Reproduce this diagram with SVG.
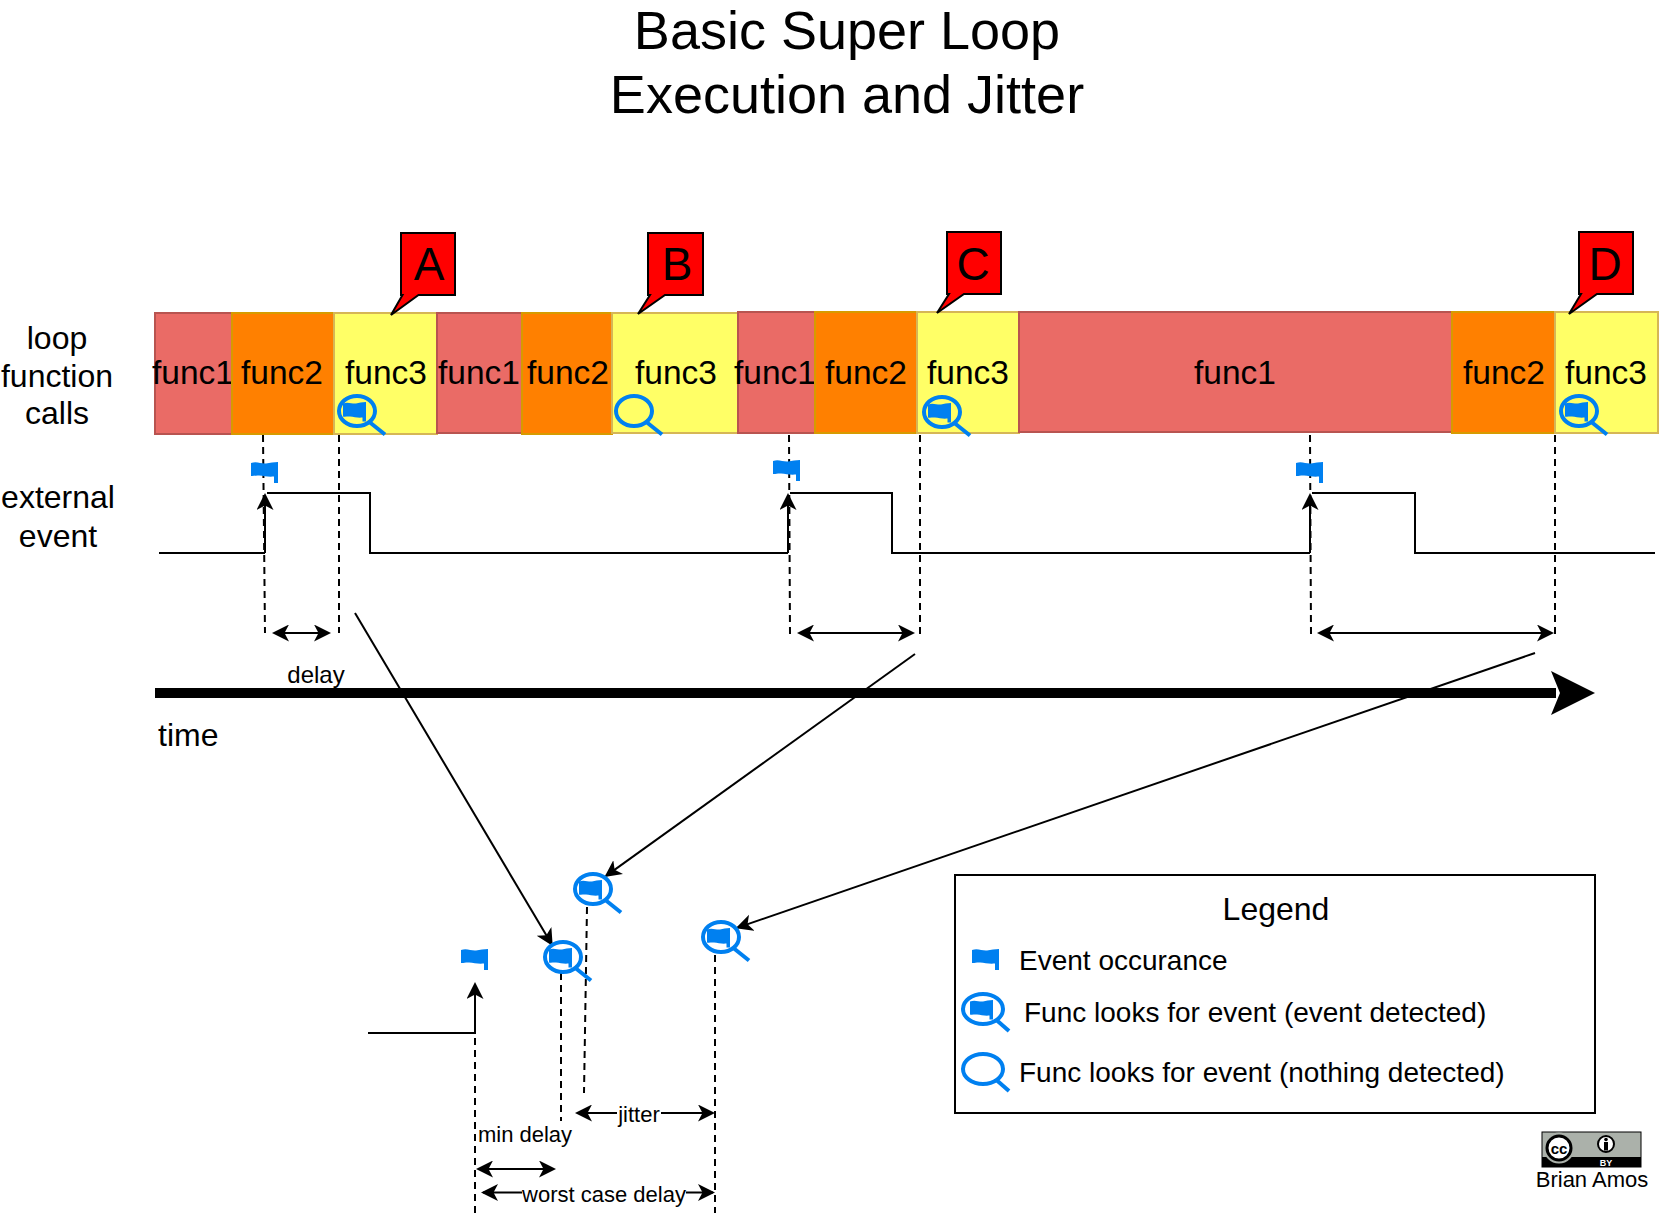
<svg xmlns="http://www.w3.org/2000/svg" xmlns:xlink="http://www.w3.org/1999/xlink" width="1670" height="1216" viewBox="0 0 1670 1216">
<style>
text{font-family:"Liberation Sans",Arial,sans-serif;fill:#000;text-anchor:middle}
.t32{font-size:32px}.fn{font-size:33.500px}.t22{font-size:22px}.t26{font-size:28px;text-anchor:start}.c{font-size:46px}.title{font-size:54px}
.f1{fill:#EA6B66;stroke:#B85450;stroke-width:2}.f2{fill:#FF8000;stroke:#D79B00;stroke-width:2}.f3{fill:#FFFF66;stroke:#D6B656;stroke-width:2}
.call{fill:#FF0000;stroke:#000;stroke-width:2}
.ln{fill:none;stroke:#000;stroke-width:2}
.d{fill:none;stroke:#000;stroke-width:2;stroke-dasharray:7 5}
.a{fill:none;stroke:#000;stroke-width:2;marker-end:url(#h)}
.aa{fill:none;stroke:#000;stroke-width:2;marker-end:url(#h);marker-start:url(#hs)}
.fl{fill:#0080F0}.lens{fill:none;stroke:#0080F0;stroke-width:4}
</style>
<defs>
<marker id="h" markerUnits="userSpaceOnUse" markerWidth="18" markerHeight="18" refX="15" refY="8.5" orient="auto"><path d="M17 8.5L0 0L4.5 8.5L0 17Z"/></marker>
<marker id="hs" markerUnits="userSpaceOnUse" markerWidth="18" markerHeight="18" refX="2" refY="8.5" orient="auto"><path d="M0 8.5L17 0L12.5 8.5L17 17Z"/></marker>
<path id="flag" class="fl" d="M0 1C6-1 10 2 15 1.500C19 1 23 0 27 0L27 21L23 21L23 14.500C17 15 13 14 8 13.500C5 13 2 14.500 0 14Z"/>
<path id="miniflag" class="fl" d="M-14-7.500C-9-9.500-5-7-1-7.500C2-8 5-9 9-9V10.500H5.500V6.500C1 7-3 6-7 5.500C-9 5.200-12 6-14 5.500Z"/>
<g id="lens"><ellipse class="lens" cx="0" cy="0" rx="18" ry="15"/><path class="lens" d="M13 11.500L28 23.500"/></g>
<g id="lensflag"><use xlink:href="#lens" href="#lens"/><use xlink:href="#miniflag" href="#miniflag"/></g>
</defs>
<rect width="1670" height="1216" fill="#fff"/>
<g id="title"><text class="title" x="847" y="49">Basic Super Loop</text><text class="title" x="847" y="113">Execution and Jitter</text></g>
<g id="side-labels"><text class="t32" x="57" y="348.500">loop</text><text class="t32" x="57" y="387">function</text><text class="t32" x="57" y="424">calls</text><text class="t32" x="58" y="508">external</text><text class="t32" x="58" y="547">event</text><text class="t32" style="text-anchor:start" x="158" y="746">time</text></g>
<g id="blocks">
<g id="b1"><rect class="f1" x="155" y="313" width="77" height="121"/><text class="fn" x="193" y="384">func1</text></g>
<g id="b2"><rect class="f2" x="232" y="313" width="102" height="121"/><text class="fn" x="282" y="384">func2</text></g>
<g id="b3"><rect class="f3" x="334" y="313" width="103" height="121"/><text class="fn" x="386" y="384">func3</text></g>
<g id="b4"><rect class="f1" x="437" y="313" width="85" height="120"/><text class="fn" x="479" y="384">func1</text></g>
<g id="b5"><rect class="f2" x="522" y="313" width="90" height="121"/><text class="fn" x="568" y="384">func2</text></g>
<g id="b6"><rect class="f3" x="612" y="313" width="126" height="120"/><text class="fn" x="676" y="384">func3</text></g>
<g id="b7"><rect class="f1" x="738" y="312" width="77" height="121"/><text class="fn" x="775" y="384">func1</text></g>
<g id="b8"><rect class="f2" x="815" y="312" width="102" height="121"/><text class="fn" x="866" y="384">func2</text></g>
<g id="b9"><rect class="f3" x="917" y="312" width="102" height="121"/><text class="fn" x="968" y="384">func3</text></g>
<g id="b10"><rect class="f1" x="1019" y="312" width="433" height="120"/><text class="fn" x="1235" y="384">func1</text></g>
<g id="b11"><rect class="f2" x="1452" y="312" width="103" height="121"/><text class="fn" x="1504" y="384">func2</text></g>
<g id="b12"><rect class="f3" x="1555" y="312" width="103" height="121"/><text class="fn" x="1606" y="384">func3</text></g>
</g>
<g id="callouts">
<g id="callout-a"><path class="call" d="M401 233H455V295H418.500L391 315L402.500 295H401Z"/><text class="c" x="429" y="280">A</text></g>
<g id="callout-b"><path class="call" d="M648 233H703V295H665L638 314L650 295H648Z"/><text class="c" x="677" y="280">B</text></g>
<g id="callout-c"><path class="call" d="M947 232H1001V294H964L937 313L949 294H947Z"/><text class="c" x="973" y="280">C</text></g>
<g id="callout-d"><path class="call" d="M1579 232H1633V294H1597L1569 314L1581 294H1579Z"/><text class="c" x="1605" y="280">D</text></g>
</g>
<g id="connectors">
<path class="ln" d="M159 553H265M267 493H370V553H788M790 493H892V553H1310M1312 493H1415V553H1655"/>
<path class="a" d="M265 553V495"/><path class="a" d="M788 553V495"/><path class="a" d="M1310 553V495"/>
<path class="d" d="M263 435L265 633"/><path class="d" d="M339 435V633"/><path class="d" d="M789 435L790 634"/><path class="d" d="M920 435V634"/><path class="d" d="M1310 435L1311 634"/><path class="d" d="M1555 435V634"/>
<path class="aa" d="M274 633H329"/><path class="aa" d="M799 633H913"/><path class="aa" d="M1319 633H1552"/>
<path d="M155 693H1556" fill="none" stroke="#000" stroke-width="10"/><path d="M1595 693L1551 671L1560 693L1551 715Z"/>
<path class="a" d="M355 613L551.700 944.300"/><path class="a" d="M915 654L606.100 875.900"/><path class="a" d="M1535 653L737.600 927.600"/>
<path class="a" d="M368 1033H475V984"/>
<path class="d" d="M475 1038V1213"/><path class="d" d="M561 973V1121"/><path class="d" d="M587 907L584 1093"/><path class="d" d="M715 955V1213"/>
<path class="aa" d="M577 1113H713"/><path class="aa" d="M478 1169H554"/><path class="aa" d="M483 1192.500H713"/>
</g>
<g id="flags">
<use xlink:href="#flag" href="#flag" x="251" y="462"/><use xlink:href="#flag" href="#flag" x="773" y="460"/><use xlink:href="#flag" href="#flag" x="1296" y="462"/><use xlink:href="#flag" href="#flag" x="461" y="949"/>
<use xlink:href="#lensflag" href="#lensflag" x="357" y="411"/><use xlink:href="#lens" href="#lens" x="634" y="411"/><use xlink:href="#lensflag" href="#lensflag" x="942" y="412"/><use xlink:href="#lensflag" href="#lensflag" x="1579" y="411"/>
<use xlink:href="#lensflag" href="#lensflag" x="563" y="957"/><use xlink:href="#lensflag" href="#lensflag" x="593" y="889"/><use xlink:href="#lensflag" href="#lensflag" x="721" y="937"/>
</g>
<g id="labels">
<text class="t22" style="font-size:24px" x="316" y="683">delay</text>
<rect x="617" y="1100" width="44" height="26" fill="#fff"/><text class="t22" x="639" y="1122">jitter</text>
<text class="t22" x="525" y="1142">min delay</text>
<rect x="522" y="1182" width="164" height="24" fill="#fff"/><text class="t22" x="604" y="1202">worst case delay</text>
</g>
<g id="legend">
<rect x="955" y="875" width="640" height="238" fill="none" stroke="#000" stroke-width="2"/>
<text class="t32" x="1276" y="920">Legend</text>
<use xlink:href="#flag" href="#flag" x="972" y="949"/><text class="t26" x="1019" y="970">Event occurance</text>
<g id="legend-lens1"><ellipse class="lens" cx="983" cy="1009" rx="20" ry="15"/><path class="lens" d="M997 1020.500L1009 1031"/><use xlink:href="#miniflag" href="#miniflag" x="984" y="1009"/></g>
<text class="t26" x="1024" y="1022">Func looks for event (event detected)</text>
<g id="legend-lens2"><ellipse class="lens" cx="983" cy="1069" rx="20" ry="15"/><path class="lens" d="M997 1080.500L1009 1091"/></g>
<text class="t26" x="1019" y="1082">Func looks for event (nothing detected)</text>
</g>
<g id="badge">
<rect x="1542" y="1132" width="99" height="35" fill="#ABB1AA" stroke="#000" stroke-width="1"/>
<rect x="1542" y="1157" width="99" height="10" fill="#000"/>
<circle cx="1559" cy="1148" r="15.500" fill="#ABB1AA"/>
<circle cx="1559" cy="1148" r="12" fill="#fff" stroke="#000" stroke-width="3"/>
<text x="1559" y="1153.500" style="font-size:15px;font-weight:bold">cc</text>
<circle cx="1606" cy="1144" r="8" fill="#fff" stroke="#000" stroke-width="2"/>
<circle cx="1606" cy="1139.500" r="1.800" fill="#000"/><rect x="1604" y="1142" width="4" height="8.500" fill="#000"/>
<text x="1606" y="1165.500" style="font-size:9px;font-weight:bold;fill:#fff">BY</text>
<text class="t22" x="1592" y="1187">Brian Amos</text>
</g>
</svg>
